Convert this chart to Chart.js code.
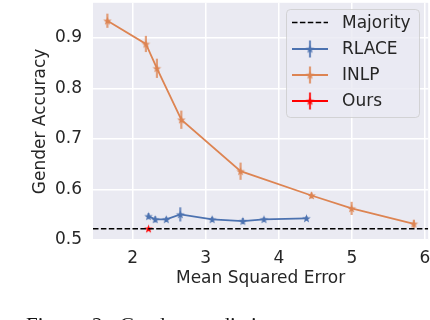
<!DOCTYPE html>
<html>
<head>
<meta charset="utf-8">
<script src="https://cdn.jsdelivr.net/npm/chart.js@4/dist/chart.umd.min.js"></script>
<style>
  html, body { margin: 0; padding: 0; background: #fff; overflow: hidden; }
  #wrap { position: relative; width: 430px; height: 320px; overflow: hidden; }
  #chart { position: absolute; left: 0; top: -3px; }
  #caption {
    position: absolute; left: 26px; top: 313px;
    font-family: "Liberation Serif", serif; font-size: 21px; color: #111;
    white-space: nowrap; word-spacing: 6px;
  }
</style>
</head>
<body>
<div id="wrap">
  <canvas id="chart" width="434" height="330"></canvas>
  <div id="caption">Figure 2: Gender prediction accuracy</div>
</div>
<script>
// values
const inlpX = [1.654, 2.181, 2.332, 2.666, 3.477, 4.448, 4.997, 5.849];
const inlpY = [0.9335, 0.8876, 0.8395, 0.7378, 0.636, 0.588, 0.5625, 0.532];
const inlpErr = [0.014, 0.016, 0.019, 0.018, 0.017, 0.006, 0.013, 0.008];

const rlaceX = [2.217, 2.309, 2.46, 2.652, 3.088, 3.508, 3.797, 4.379];
const rlaceY = [0.547, 0.5408, 0.5408, 0.5506, 0.5408, 0.5374, 0.5408, 0.5428];
const rlaceErr = [0.006, 0.006, 0.005, 0.014, 0.005, 0.006, 0.004, 0.004];

const oursX = [2.217];
const oursY = [0.5223];
const oursErr = [0.002];

const majority = 0.5223;

const xMin = 1.457, xMax = 6.045;
const yMin = 0.5, yMax = 0.969;
const xTicks = [2, 3, 4, 5, 6];
const yTicks = [0.5, 0.6, 0.7, 0.8, 0.9];

const BLUE = '#4C72B0', ORANGE = '#DD8452', RED = '#FF0000';
const TEXT = '#262626';
const FONT = { family: 'DejaVu Sans', size: 17 };

// filled 5 point star like matplotlib '*'
function makeStar(color, r) {
  const c = document.createElement('canvas');
  const s = Math.ceil(r * 2 + 2);
  c.width = s; c.height = s;
  const g = c.getContext('2d');
  g.fillStyle = color;
  g.beginPath();
  for (let i = 0; i < 10; i++) {
    const rad = i % 2 === 0 ? r : r * 0.4;
    const a = -Math.PI / 2 + i * Math.PI / 5;
    const px = s / 2 + rad * Math.cos(a), py = s / 2 + rad * Math.sin(a) + r * 0.08;
    i === 0 ? g.moveTo(px, py) : g.lineTo(px, py);
  }
  g.closePath();
  g.fill();
  return c;
}

const pts = (xs, ys) => xs.map((x, i) => ({ x: x, y: ys[i] }));

const errorBars = {
  id: 'errorBars',
  beforeDatasetsDraw(chart) {
    const ctx = chart.ctx;
    const xs = chart.scales.x, ys = chart.scales.y;
    chart.data.datasets.forEach(ds => {
      if (!ds.errors) return;
      ctx.save();
      ctx.strokeStyle = ds.borderColor;
      ctx.globalAlpha = 0.75;
      ctx.lineWidth = 2.2;
      ds.data.forEach((p, i) => {
        const px = xs.getPixelForValue(p.x);
        ctx.beginPath();
        ctx.moveTo(px, ys.getPixelForValue(p.y - ds.errors[i]));
        ctx.lineTo(px, ys.getPixelForValue(p.y + ds.errors[i]));
        ctx.stroke();
      });
      ctx.restore();
    });
  }
};

// legend box drawn inside the plot, top right
const boxLegend = {
  id: 'boxLegend',
  afterDraw(chart) {
    const ctx = chart.ctx;
    const off = 3; // canvas is shifted up by 3px
    const bx = 286, by = 9 + off, bw = 133, bh = 108;
    ctx.save();
    ctx.beginPath();
    ctx.roundRect(bx + 0.5, by + 0.5, bw, bh, 4);
    ctx.fillStyle = 'rgba(234,234,242,0.8)';
    ctx.fill();
    ctx.strokeStyle = 'rgba(204,204,204,0.8)';
    ctx.lineWidth = 1;
    ctx.stroke();
    const rows = [22.5, 49, 75, 101];
    const order = ['Majority', 'RLACE', 'INLP', 'Ours'];
    order.forEach((name, k) => {
      const ds = chart.data.datasets.find(d => d.label === name);
      const y = rows[k] + off;
      ctx.strokeStyle = ds.borderColor;
      ctx.lineWidth = ds.borderWidth;
      ctx.setLineDash(ds.borderDash || []);
      ctx.beginPath();
      ctx.moveTo(292, y);
      ctx.lineTo(328, y);
      ctx.stroke();
      ctx.setLineDash([]);
      if (ds.errors) {
        ctx.globalAlpha = 0.8;
        ctx.lineWidth = 2.2;
        ctx.beginPath();
        ctx.moveTo(310, y - 8.5);
        ctx.lineTo(310, y + 8.5);
        ctx.stroke();
        ctx.globalAlpha = 1;
        const img = ds.pointStyle;
        ctx.drawImage(img, 310 - img.width / 2, y - img.height / 2);
      }
      ctx.fillStyle = TEXT;
      ctx.font = '17px "DejaVu Sans"';
      ctx.textBaseline = 'middle';
      ctx.fillText(name, 342, y + 1);
    });
    ctx.restore();
  }
};

const plotBg = {
  id: 'plotBg',
  beforeDraw(chart) {
    const { ctx, chartArea: a } = chart;
    ctx.save();
    ctx.fillStyle = '#EAEAF2';
    ctx.fillRect(a.left, a.top, a.right - a.left, a.bottom - a.top);
    ctx.restore();
  }
};

new Chart(document.getElementById('chart'), {
  type: 'line',
  data: {
    datasets: [
      {
        label: 'Majority',
        data: [{ x: xMin, y: majority }, { x: xMax, y: majority }],
        borderColor: '#000000',
        borderWidth: 1.5,
        borderDash: [5.5, 2.4],
        pointRadius: 0
      },
      {
        label: 'RLACE',
        data: pts(rlaceX, rlaceY),
        errors: rlaceErr,
        borderColor: BLUE,
        borderWidth: 1.8,
        pointStyle: makeStar(BLUE, 4.5)
      },
      {
        label: 'INLP',
        data: pts(inlpX, inlpY),
        errors: inlpErr,
        borderColor: ORANGE,
        borderWidth: 1.8,
        pointStyle: makeStar(ORANGE, 4.5)
      },
      {
        label: 'Ours',
        data: pts(oursX, oursY),
        errors: oursErr,
        borderColor: RED,
        borderWidth: 1.8,
        pointStyle: makeStar(RED, 4.5)
      }
    ]
  },
  options: {
    responsive: false,
    animation: false,
    events: [],
    layout: { padding: { top: 1, right: 3, bottom: 30, left: 0 } },
    plugins: { legend: { display: false }, tooltip: { enabled: false } },
    scales: {
      x: {
        type: 'linear',
        min: xMin,
        max: xMax,
        afterBuildTicks: s => { s.ticks = xTicks.map(v => ({ value: v })); },
        afterFit: s => { s.height = 57; s.paddingLeft = 0; s.paddingRight = 0; },
        ticks: { color: TEXT, font: FONT, padding: 8, maxRotation: 0 },
        grid: { color: '#FFFFFF', lineWidth: 1.5, drawTicks: false },
        border: { display: false },
        title: { display: true, text: 'Mean Squared Error', color: TEXT, font: FONT, padding: { top: 0, bottom: 8 } }
      },
      y: {
        type: 'linear',
        min: yMin,
        max: yMax,
        afterBuildTicks: s => { s.ticks = yTicks.map(v => ({ value: v })); },
        afterFit: s => { s.width = 93; s.paddingTop = 0; s.paddingBottom = 0; },
        ticks: { color: TEXT, font: FONT, padding: 11, callback: v => v.toFixed(1) },
        grid: { color: '#FFFFFF', lineWidth: 1.5, drawTicks: false },
        border: { display: false },
        title: { display: true, text: 'Gender Accuracy', color: TEXT, font: FONT, padding: { top: 30, bottom: 0 } }
      }
    }
  },
  plugins: [plotBg, errorBars, boxLegend]
});
</script>
</body>
</html>
